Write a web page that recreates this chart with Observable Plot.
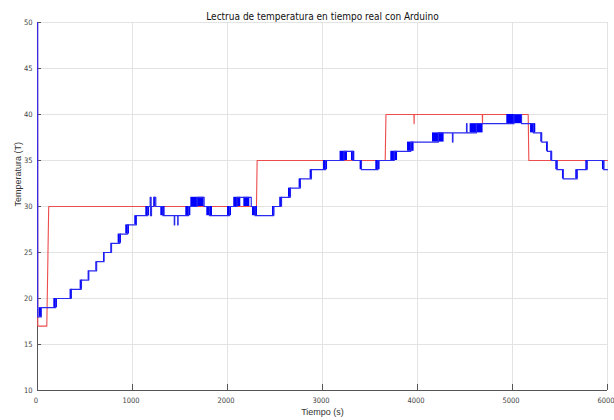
<!DOCTYPE html>
<html>
<head>
<meta charset="utf-8">
<script src="https://cdn.jsdelivr.net/npm/d3@7"></script>
<script src="https://cdn.jsdelivr.net/npm/@observablehq/plot@0.6"></script>
<style>
  html, body { margin: 0; padding: 0; background: #fff; }
</style>
</head>
<body>
<div id="chart"></div>
<script>
const titleText = "Lectrua de temperatura en tiempo real con Arduino";
const xLabel = "Tiempo (s)";
const yLabel = "Temperatura (T)";
const xTicks = [0, 1000, 2000, 3000, 4000, 5000, 6000];
const yTicks = [10, 15, 20, 25, 30, 35, 40, 45, 50];

// Setpoint (red)
const redT = [0, 3, 98, 118, 2305, 2312, 3660, 3668, 3962, 3964, 3966, 4682, 4684, 4686, 5165, 5172, 6000];
const redV = [50, 17, 17, 30, 30, 35, 35, 40, 40, 39, 40, 40, 39, 40, 40, 35, 35];

// Measured temperature (blue), value held from each time onward
const blueT = [0, 2, 40, 190, 355, 460, 540, 622, 700, 779, 866, 948, 1040, 1160,
  1186, 1189, 1193, 1196, 1200, 1225, 1245, 1320, 1440, 1444, 1476, 1480, 1590, 1680, 1754, 1810,
  2020, 2100, 2250, 2290, 2486, 2565, 2660, 2766, 2882, 3032, 3225, 3320, 3410,
  3583, 3755, 3930, 4220, 4368, 4373, 4516, 4521, 4620, 5015, 5095, 5220,
  5307, 5366, 5412, 5468, 5534, 5680, 5784, 5960, 6000];
const blueV = [50, 18, 19, 20, 21, 22, 23, 24, 25, 26, 27, 28, 29, 30,
  31, 29, 31, 29, 30, 31, 30, 29, 28, 29, 28, 29, 30, 31, 30, 29,
  30, 31, 30, 29, 30, 31, 32, 33, 34, 35, 36, 35, 34,
  35, 36, 37, 38, 37, 38, 39, 38, 39, 40, 39, 38,
  37, 36, 35, 34, 33, 34, 35, 34, 34];

// Dense oscillation bands of the blue reading
const bandT0 = [17, 172, 343, 449, 533, 614, 695, 772, 849, 929, 1024, 1140, 1225, 1298, 1561, 1614, 1782,
  2000, 2066, 2172, 2263, 2474, 2550, 2642, 2754, 2870, 3011, 3185, 3305, 3396, 3561, 3719, 3895,
  4158, 4554, 4940, 5190, 5298, 5358, 5403, 5456, 5526, 5666, 5772, 5947];
const bandT1 = [45, 210, 368, 474, 547, 632, 708, 786, 884, 968, 1052, 1179, 1245, 1343, 1614, 1754, 1842,
  2042, 2140, 2235, 2316, 2498, 2580, 2674, 2779, 2895, 3053, 3263, 3340, 3421, 3606, 3790, 3964,
  4280, 4690, 5095, 5245, 5316, 5375, 5421, 5480, 5543, 5691, 5796, 5972];
const bandLo = [18, 19, 20, 21, 22, 23, 24, 25, 26, 27, 28, 29, 30, 29, 29, 30, 29,
  29, 30, 30, 29, 29, 30, 31, 32, 33, 34, 35, 35, 34, 34, 35, 36,
  37, 38, 39, 38, 37, 36, 35, 34, 33, 33, 34, 34];
const bandHi = [19, 20, 21, 22, 23, 24, 25, 26, 27, 28, 29, 30, 31, 30, 30, 31, 30,
  30, 31, 31, 30, 30, 31, 32, 33, 34, 35, 36, 36, 35, 35, 36, 37,
  38, 39, 40, 39, 38, 37, 36, 35, 34, 34, 35, 35];

const red = redT.map((t, i) => ({t, v: redV[i]}));
const blue = blueT.map((t, i) => ({t, v: blueV[i]}));
const bands = bandT0.map((t0, i) => ({t0, t1: bandT1[i], lo: bandLo[i], hi: bandHi[i]}));

const W = 614, H = 420, mL = 37, mR = 7, mT = 22, mB = 30;
const innerH = H - mT - mB, innerW = W - mL - mR;
const narrow = "'Liberation Sans Narrow', 'Arial Narrow', 'DejaVu Sans Condensed', sans-serif";
const regular = "'Liberation Sans', Arial, sans-serif";

const chart = Plot.plot({
  width: W, height: H,
  marginLeft: mL, marginRight: mR, marginTop: mT, marginBottom: mB,
  style: {background: "#fff", fontFamily: narrow, color: "#333"},
  x: {domain: [0, 6000]},
  y: {domain: [10, 50]},
  marks: [
    Plot.gridX(xTicks, {stroke: "#e3e3e3", strokeOpacity: 1}),
    Plot.gridY(yTicks, {stroke: "#e3e3e3", strokeOpacity: 1}),
    Plot.ruleX(xTicks, {stroke: "#555", insetTop: innerH - 6}),
    Plot.ruleY(yTicks, {stroke: "#555", insetRight: innerW - 4}),
    Plot.ruleX([0], {stroke: "#555"}),
    Plot.ruleY([10], {stroke: "#555"}),
    Plot.axisX(xTicks, {tickSize: 0, tickPadding: 7, fontSize: 7.5, dx: -1.5, fontFamily: narrow, fill: "#444", label: null, tickFormat: d => String(d)}),
    Plot.axisY(yTicks, {tickSize: 0, tickPadding: 5, fontSize: 7.5, fontFamily: narrow, fill: "#444", label: null}),
    Plot.line(red, {x: "t", y: "v", stroke: "#ec4c4c", strokeWidth: 1.1}),
    Plot.rect(bands, {x1: "t0", x2: "t1", y1: "lo", y2: "hi", fill: "#0000ff", inset: 0}),
    Plot.line(blue, {x: "t", y: "v", curve: "step-after", stroke: "#2a2af0", strokeWidth: 1.2}),
    Plot.text([titleText], {frameAnchor: "top", dy: -10, fontSize: 10, fontFamily: narrow, fill: "#111"}),
    Plot.text([xLabel], {frameAnchor: "bottom", dy: 24, fontSize: 9, fontFamily: regular, fill: "#333"}),
    Plot.text([yLabel], {frameAnchor: "left", dx: -19, rotate: -90, fontSize: 9, fontFamily: regular, fill: "#333"})
  ]
});
document.getElementById("chart").appendChild(chart);
</script>
</body>
</html>
